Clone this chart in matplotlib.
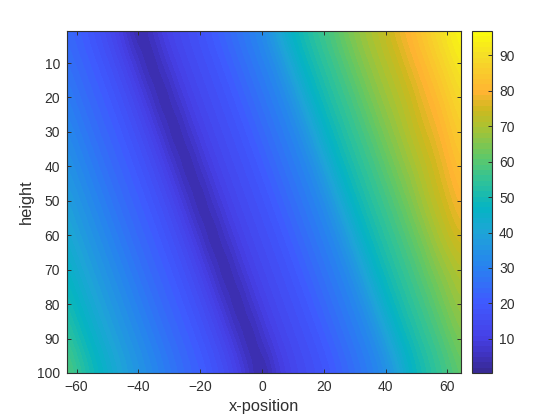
import numpy as np
import matplotlib
matplotlib.use("Agg")
import matplotlib.pyplot as plt
from matplotlib.colors import LinearSegmentedColormap

plt.rcParams['font.family'] = ['Liberation Sans', 'DejaVu Sans']

x_pos = np.arange(-64, 65, 4)
heights = np.arange(0, 101, 10)

# one row per height
row_000 = [24, 22, 19, 16, 12, 7, 1, 7, 11, 14, 16, 18, 21, 24, 27, 30, 33, 39, 46, 50, 54, 57, 61, 65, 68, 71, 74, 78, 81, 85, 89, 93, 96]
row_010 = [27, 24, 22, 19, 16, 12, 7, 1, 7, 11, 14, 16, 18, 21, 24, 27, 30, 33, 39, 46, 50, 54, 57, 61, 65, 68, 71, 74, 78, 81, 85, 89, 93]
row_020 = [30, 27, 24, 22, 19, 16, 12, 7, 1, 7, 11, 14, 16, 18, 21, 24, 27, 30, 33, 39, 46, 50, 54, 57, 61, 65, 68, 71, 74, 78, 81, 85, 89]
row_030 = [33, 30, 27, 24, 22, 19, 16, 12, 7, 1, 7, 11, 14, 16, 18, 21, 24, 27, 30, 33, 39, 46, 50, 54, 57, 61, 65, 68, 72, 75, 78, 82, 86]
row_040 = [36, 33, 30, 27, 24, 22, 19, 16, 12, 7, 1, 7, 11, 14, 16, 18, 21, 24, 27, 30, 33, 39, 46, 50, 54, 57, 61, 65, 68, 72, 75, 79, 83]
row_050 = [39, 36, 33, 30, 27, 24, 22, 19, 16, 12, 7, 1, 7, 11, 14, 16, 18, 21, 24, 27, 30, 33, 39, 46, 50, 54, 57, 61, 65, 69, 73, 76, 80]
row_060 = [43, 39, 36, 33, 30, 27, 24, 22, 19, 16, 12, 7, 1, 7, 11, 14, 16, 18, 21, 24, 27, 30, 33, 39, 46, 50, 54, 57, 61, 65, 69, 73, 76]
row_070 = [47, 43, 39, 36, 33, 30, 27, 24, 22, 19, 16, 12, 7, 1, 7, 11, 14, 16, 18, 21, 24, 27, 30, 33, 39, 46, 50, 54, 57, 61, 65, 68, 71]
row_080 = [51, 47, 43, 39, 36, 33, 30, 27, 24, 22, 19, 16, 12, 7, 1, 7, 11, 14, 16, 18, 21, 24, 27, 30, 33, 39, 46, 50, 54, 57, 61, 65, 68]
row_090 = [56, 51, 47, 43, 39, 36, 33, 30, 27, 24, 22, 19, 16, 12, 7, 1, 7, 11, 14, 16, 18, 21, 24, 27, 30, 33, 39, 46, 50, 54, 57, 61, 65]
row_100 = [61, 56, 51, 47, 43, 39, 36, 33, 30, 27, 24, 22, 19, 16, 12, 7, 1, 7, 11, 14, 16, 18, 21, 24, 27, 30, 33, 39, 46, 50, 54, 57, 61]

x_ticks = [-60, -40, -20, 0, 20, 40, 60]
y_ticks = [10, 20, 30, 40, 50, 60, 70, 80, 90, 100]
cbar_ticks = [10, 20, 30, 40, 50, 60, 70, 80, 90]

# colours seen on the colorbar
cmap_colors = ['#382a96', '#3f33c0', '#4640e6', '#3f5aff', '#2882f0', '#1ea5d7', '#05b4c3',
               '#32c396', '#64c864', '#aac332', '#cdb91e', '#ffb432', '#f5dc28', '#fafa0f']
cmap_stops = [0.4, 5, 10, 20, 30, 40, 47, 55, 62, 70, 75, 80, 90, 96.8]

vmin, vmax = 0.4, 96.8
stops = [(s - vmin) / (vmax - vmin) for s in cmap_stops]
cmap = LinearSegmentedColormap.from_list('parula_old', list(zip(stops, cmap_colors)), N=64)

W, H = 560, 420
dark = '#303030'

grid = np.array([row_000, row_010, row_020, row_030, row_040, row_050,
                 row_060, row_070, row_080, row_090, row_100])

fig = plt.figure(figsize=(W / 100, H / 100), dpi=100)
ax = fig.add_axes([67 / W, 1 - 373 / H, (461 - 67) / W, (373 - 31) / H])
cax = fig.add_axes([472 / W, 1 - 373 / H, (492 - 472) / W, (373 - 31) / H])

im = ax.imshow(grid, cmap=cmap, vmin=vmin, vmax=vmax, aspect='auto', interpolation='bicubic',
               extent=[x_pos[0] - 2, x_pos[-1] + 2, heights[-1] + 5, heights[0] - 5])
ax.set_xlim(-63.1, 64.4)
ax.set_ylim(100, 0.7)
ax.set_xticks(x_ticks)
ax.set_yticks(y_ticks)
ax.set_xlabel('x-position', fontsize=11.8, color=dark, labelpad=4)
ax.set_ylabel('height', fontsize=11.8, color=dark, labelpad=2)

cb = fig.colorbar(im, cax=cax)
cb.set_ticks(cbar_ticks)

for a in (ax, cax):
    a.tick_params(direction='in', length=3, width=0.7, color=dark, labelcolor=dark, labelsize=10, pad=5)
    for s in a.spines.values():
        s.set_color(dark)
        s.set_linewidth(0.8)
ax.tick_params(top=True, right=True)
cb.outline.set_edgecolor(dark)
cb.outline.set_linewidth(0.8)

fig.savefig('out.png', dpi=100)
